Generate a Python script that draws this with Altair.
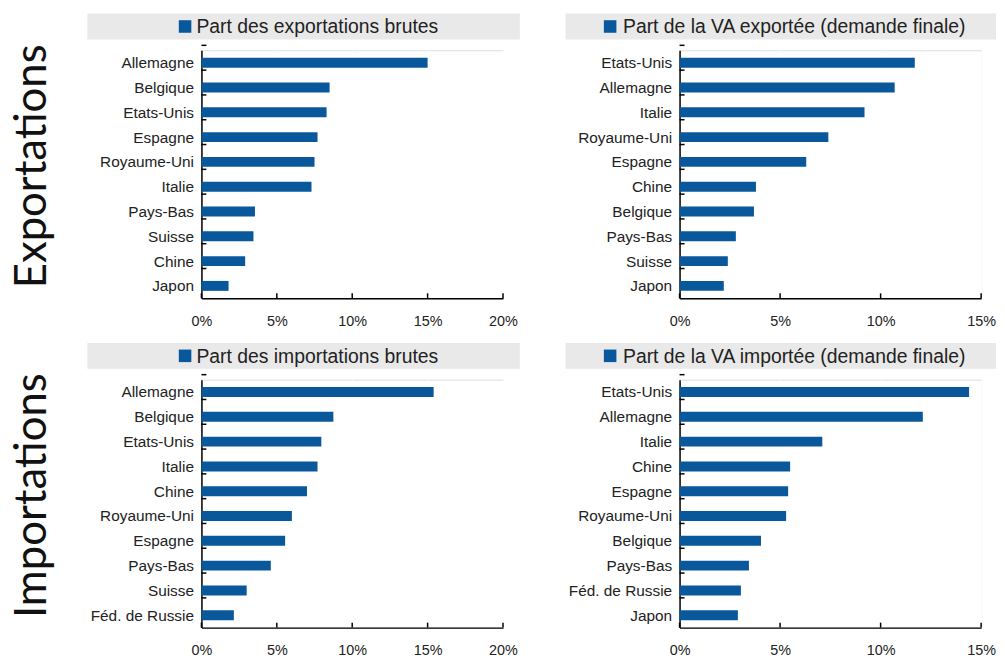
import altair as alt
import pandas as pd

# ---- data ----
exp_brut_pays = ["Allemagne", "Belgique", "Etats-Unis", "Espagne", "Royaume-Uni",
                 "Italie", "Pays-Bas", "Suisse", "Chine", "Japon"]
exp_brut_val = [15.0, 8.5, 8.3, 7.7, 7.5, 7.3, 3.55, 3.45, 2.9, 1.8]

exp_va_pays = ["Etats-Unis", "Allemagne", "Italie", "Royaume-Uni", "Espagne",
               "Chine", "Belgique", "Pays-Bas", "Suisse", "Japon"]
exp_va_val = [11.7, 10.7, 9.2, 7.4, 6.3, 3.8, 3.7, 2.8, 2.4, 2.2]

imp_brut_pays = ["Allemagne", "Belgique", "Etats-Unis", "Italie", "Chine",
                 "Royaume-Uni", "Espagne", "Pays-Bas", "Suisse", "Féd. de Russie"]
imp_brut_val = [15.4, 8.75, 7.95, 7.7, 7.0, 6.0, 5.55, 4.6, 3.0, 2.15]

imp_va_pays = ["Etats-Unis", "Allemagne", "Italie", "Chine", "Espagne",
               "Royaume-Uni", "Belgique", "Pays-Bas", "Féd. de Russie", "Japon"]
imp_va_val = [14.4, 12.1, 7.1, 5.5, 5.4, 5.3, 4.05, 3.45, 3.05, 2.9]

ticks_20 = [0, 5, 10, 15, 20]
ticks_15 = [0, 5, 10, 15]

titles = ["Part des exportations brutes", "Part de la VA exportée (demande finale)",
          "Part des importations brutes", "Part de la VA importée (demande finale)"]
row_labels = ["Exportations", "Importations"]

# ---- style ----
BLUE = "#0a589c"
BG = "#e9e9e9"
FONT = "Liberation Sans, Arial, sans-serif"
W, H = 304, 250
STEP = H / 10


def panel(pays, vals, ticks, title, sq_x, txt_x, band_end, row_label=None):
    df = pd.DataFrame({"pays": pays, "val": vals})
    tdf = pd.DataFrame({"t": ticks})
    dmax = ticks[-1]
    xscale = alt.Scale(domain=[0, dmax], nice=False, zero=True)
    yscale = alt.Scale(domain=pays, paddingInner=0.6, paddingOuter=0.3)

    bars = alt.Chart(df).mark_bar(color=BLUE).encode(
        x=alt.X("val:Q", scale=xscale,
                axis=alt.Axis(values=ticks, labelExpr="datum.value + '%'", title=None,
                              grid=True, gridColor="white", gridWidth=1, ticks=False,
                              domainColor="black", domainWidth=1.5, labelFlush=False,
                              labelFont=FONT, labelFontSize=14.5, labelColor="#222",
                              labelPadding=16)),
        y=alt.Y("pays:N", sort=pays, scale=yscale,
                axis=alt.Axis(title=None, ticks=False, grid=True, gridColor="white",
                              gridWidth=1.5, tickBand="extent",
                              domainColor="black", domainWidth=1.5,
                              labelFont=FONT, labelFontSize=15.5, labelColor="#222",
                              labelPadding=8, labelLimit=200)),
    )
    xt = alt.Chart(tdf).mark_rule(color="black", strokeWidth=1.5).encode(
        x=alt.X("t:Q", scale=xscale), y=alt.value(H - 5), y2=alt.value(H))
    yt = alt.Chart(df).mark_rule(color="black", strokeWidth=1.5).encode(
        y=alt.Y("pays:N", sort=pays, scale=yscale), yOffset=alt.value(-STEP / 2),
        x=alt.value(0), x2=alt.value(5))
    hdf = pd.DataFrame({"t": [title]})
    band = alt.Chart(hdf).mark_rect(color=BG).encode(
        x=alt.value(-115), x2=alt.value(band_end), y=alt.value(-37), y2=alt.value(-11))
    sq = alt.Chart(hdf).mark_square(color=BLUE, size=160, opacity=1).encode(
        x=alt.value(sq_x), y=alt.value(-24))
    txt = alt.Chart(hdf).mark_text(align="left", baseline="middle", font=FONT,
                                   fontSize=19.5, color="#222").encode(
        x=alt.value(txt_x), y=alt.value(-23), text="t:N")
    layers = [band, sq, txt, bars, xt, yt]
    if row_label:
        ldf = pd.DataFrame({"t": [row_label]})
        lab = alt.Chart(ldf).mark_text(angle=270, align="center", baseline="middle",
                                       font="Lato", fontSize=44, color="#111").encode(
            x=alt.value(-170), y=alt.value(117), text="t:N")
        layers.append(lab)
    return alt.layer(*layers).properties(width=W, height=H)


p1 = panel(exp_brut_pays, exp_brut_val, ticks_20, titles[0], -16.5, -5, 321, row_labels[0])
p2 = panel(exp_va_pays, exp_va_val, ticks_15, titles[1], -70, -57, 319)
p3 = panel(imp_brut_pays, imp_brut_val, ticks_20, titles[2], -16.5, -5, 321, row_labels[1])
p4 = panel(imp_va_pays, imp_va_val, ticks_15, titles[3], -70, -57, 319)

chart = alt.concat(p1, p2, p3, p4, columns=2, bounds="flush",
                   spacing=alt.RowColnumber(row=82, column=178)).properties(
    padding={"left": 2, "top": 2, "right": 0, "bottom": 0}
).configure_view(fill=BG, stroke=None).configure(background="white")

chart.save("out.html", embed_options={"renderer": "svg", "actions": False})
